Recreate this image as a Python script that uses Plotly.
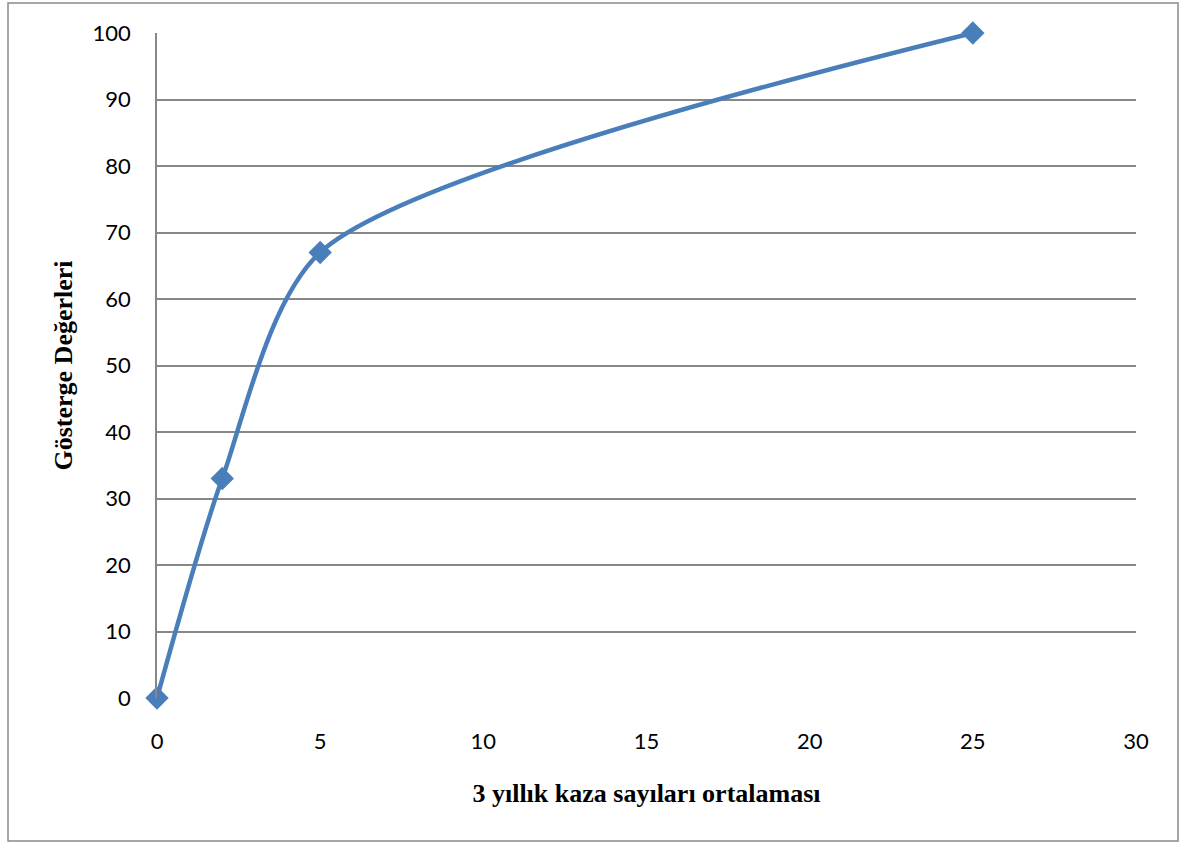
import plotly.graph_objects as go

kaza = [0, 2, 5, 25]
gosterge = [0, 33, 67, 100]
x_ticks = [0, 5, 10, 15, 20, 25, 30]
y_ticks = [0, 10, 20, 30, 40, 50, 60, 70, 80, 90, 100]

fig = go.Figure()
fig.add_trace(go.Scatter(
    x=kaza, y=gosterge, mode="lines+markers",
    line=dict(color="#4A7EBB", width=4.5, shape="spline", smoothing=0.75),
    marker=dict(symbol="diamond", size=18, color="#4A7EBB"),
    cliponaxis=False, showlegend=False,
))

W, H = 1182, 843
L, R, T, B = 157, 46, 33, 145
pw, ph = W - L - R, H - T - B

def px_x(p):
    return (p - L) / pw

def px_y(p):
    return (H - B - p) / ph

fig.add_shape(type="rect", xref="paper", yref="paper",
              x0=px_x(8), x1=px_x(1178), y0=px_y(841), y1=px_y(3),
              line=dict(color="#898989", width=1.5), layer="below")

fig.update_layout(
    width=W, height=H,
    margin=dict(l=L, r=R, t=T, b=B, autoexpand=False),
    paper_bgcolor="white", plot_bgcolor="white",
    font=dict(family="Lato", color="black", size=22),
    xaxis=dict(range=[0, 30], tickvals=x_ticks, showgrid=False, zeroline=False,
               showline=False, ticks="", ticklabelstandoff=28,
               tickfont=dict(family="Lato", size=22),
               title=dict(text="<b>3 yıllık kaza sayıları ortalaması</b>",
                          font=dict(family="Liberation Serif", size=26), standoff=30)),
    yaxis=dict(range=[0, 100], tickvals=y_ticks, showgrid=True, gridcolor="#878787",
               gridwidth=1.5, zeroline=False, showline=True, linecolor="#878787",
               linewidth=1.5, ticks="", ticklabelstandoff=20,
               tickfont=dict(family="Lato", size=22),
               title=dict(text="<b>Gösterge Değerleri</b>",
                          font=dict(family="Liberation Serif", size=26), standoff=12)),
)

fig.write_html("out.html", config={"displayModeBar": False},
               post_script="document.body.style.margin='0';")
